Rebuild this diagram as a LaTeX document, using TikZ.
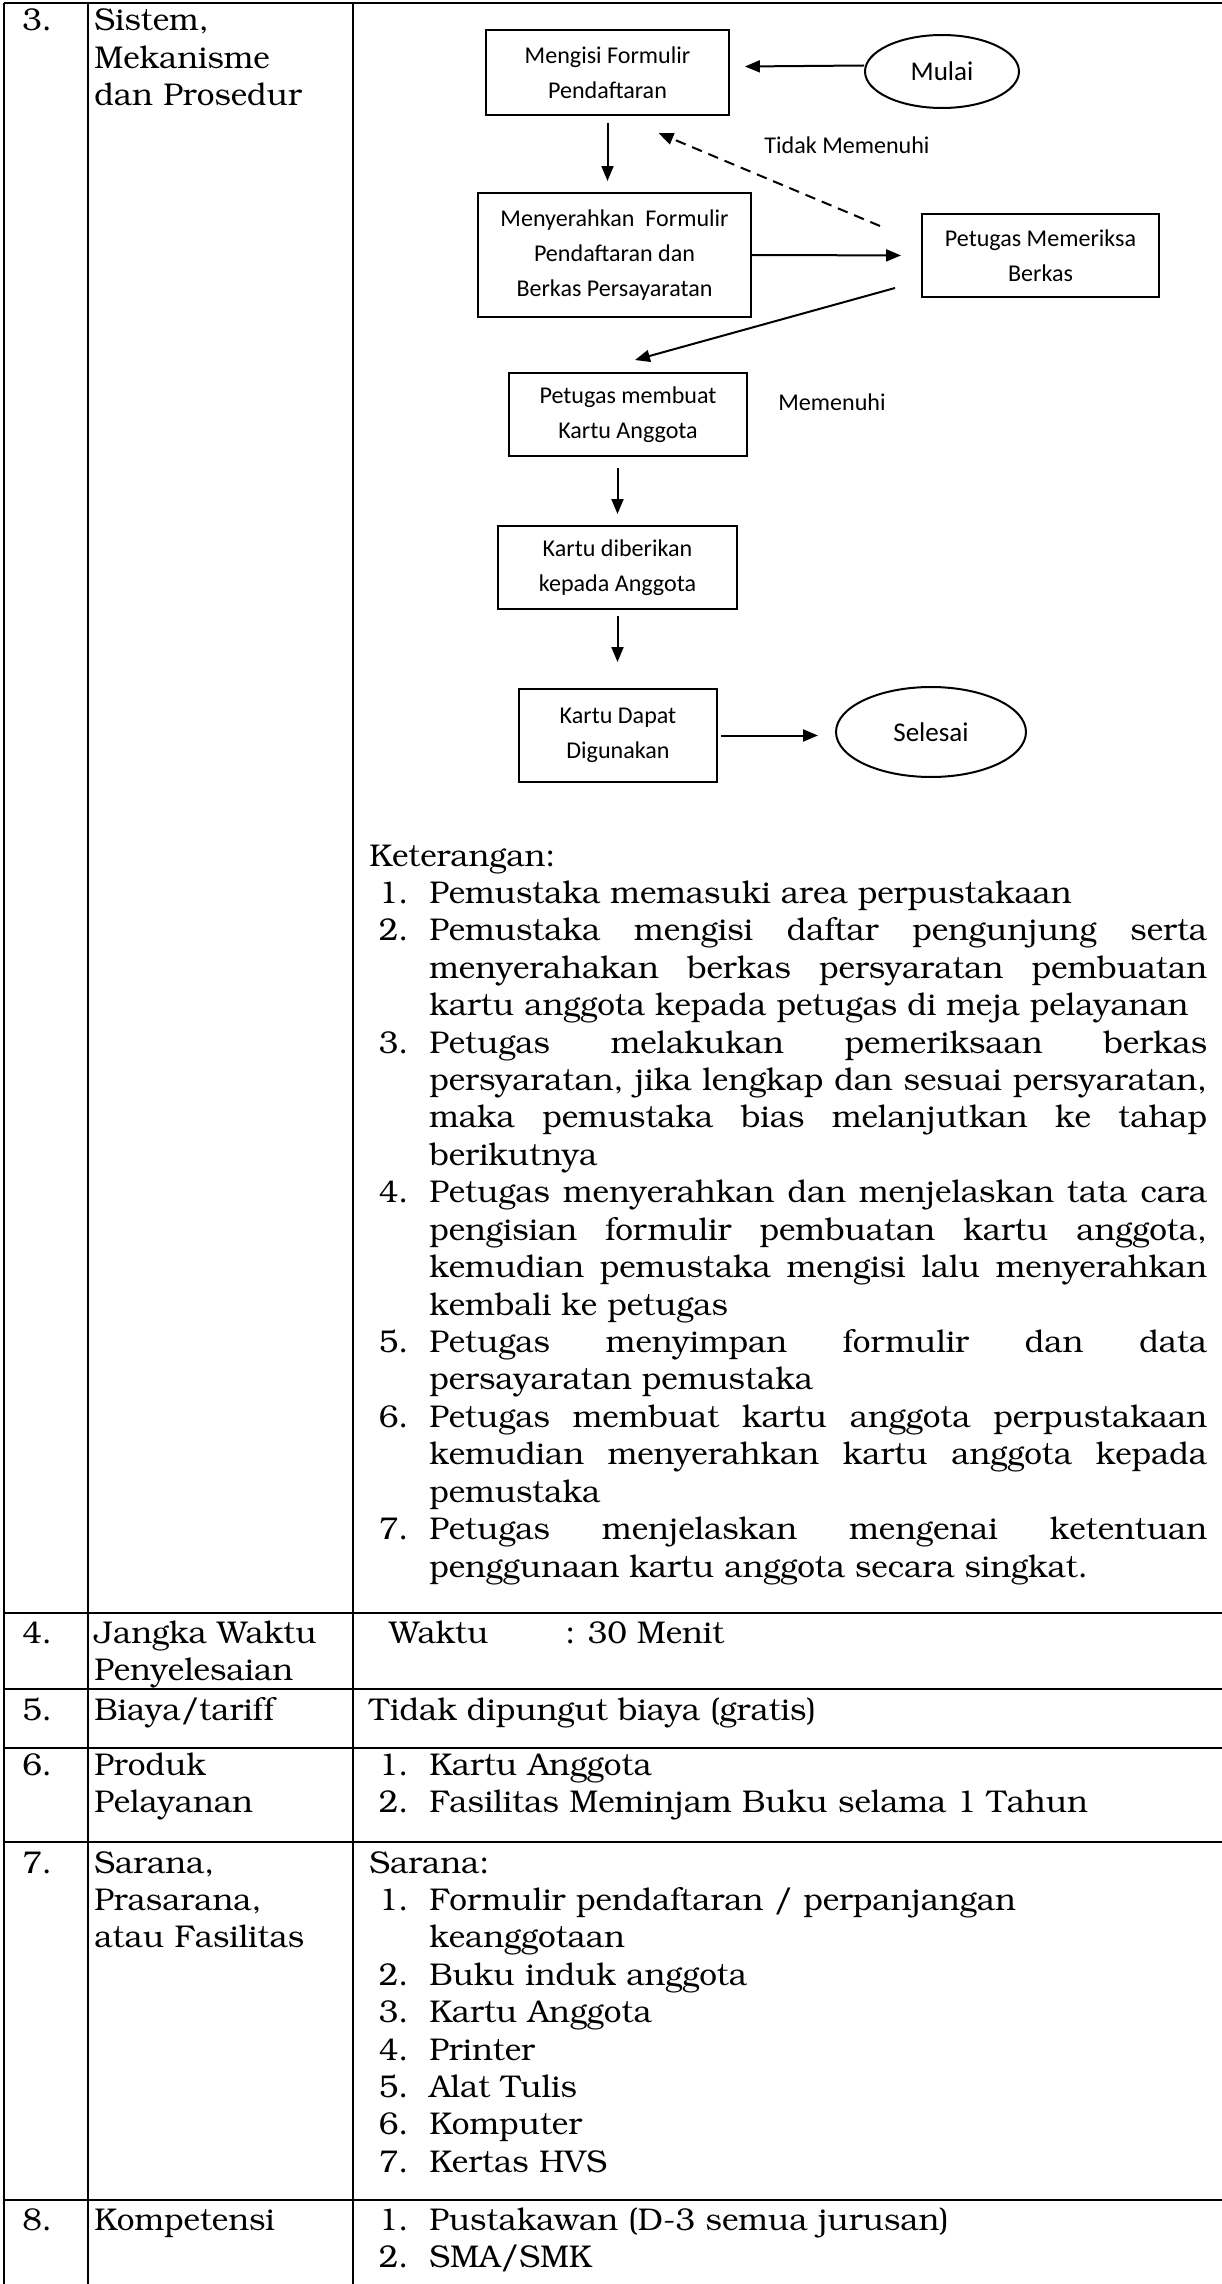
\documentclass[tikz,border=0pt]{standalone}
\usepackage[T1]{fontenc}
\usepackage{fontspec}
\newfontfamily\calibri{Carlito}
\usetikzlibrary{arrows.meta}
\usetikzlibrary{calc,positioning,shapes.geometric}

\newlength{\pxu}
\setlength{\pxu}{0.56906pt}

\newcommand{\bookfont}{\fontencoding{T1}\fontfamily{pbk}\fontseries{m}\fontshape{n}\fontsize{17.9}{21.3}\selectfont}
\newcommand{\alurfont}{\calibri\fontsize{13.7}{19.9}\selectfont}
\newcommand{\butir}[2]{\hangindent=60\pxu\hangafter=1\noindent\makebox[39\pxu][r]{#1}\hspace*{21\pxu}#2\par}

\begin{document}
\begin{tikzpicture}[x=0.02cm, y=-0.02cm, >={Triangle[length=8.5pt,width=6.8pt]},
    garis/.style={line width=2\pxu},
    teks/.style={font=\bookfont, inner sep=0pt, anchor=base west},
    kolom/.style={teks, text width=255\pxu, align=left},
    daftar/.style={teks, text width=838\pxu, align=left},
    kotak/.style={draw, line width=2\pxu, font=\alurfont, align=center, inner sep=0pt},
    bulat/.style={kotak, ellipse, font=\calibri\fontsize{15.4}{18}\selectfont},
    panah/.style={->, line width=2\pxu},
    ket/.style={font=\alurfont, inner sep=0pt}]

    \useasboundingbox (0,0) rectangle (1222,2284);

    % garis tabel
    \draw[garis] (4,3) -- (1222,3);
    \draw[garis] (4,3) -- (4,2284);
    \draw[garis] (88,3) -- (88,2284);
    \draw[garis] (352.5,3) -- (352.5,2284);
    \foreach \y in {1613,1689,1748,1842,2200}
        \draw[garis] (4,\y) -- (1222,\y);

    % baris 3
    \node[teks] (no3) at (22,31) {3.};
    \node[kolom] (judul3) at (94,31) {Sistem,\\Mekanisme\\dan Prosedur};

    \node[kotak, minimum width=243\pxu, minimum height=85\pxu] (isi) at (607.5,72.5) {Mengisi Formulir\\Pendaftaran};
    \node[bulat, minimum width=154\pxu, minimum height=73\pxu] (mulai) at (942,71.5) {Mulai};
    \node[kotak, minimum width=273\pxu, minimum height=124\pxu] (serah) at (614.5,255) {Menyerahkan~~Formulir\\Pendaftaran dan\\Berkas Persayaratan};
    \node[kotak, minimum width=237\pxu, minimum height=83\pxu] (periksa) at (1040.5,255.5) {Petugas Memeriksa\\Berkas};
    \node[kotak, minimum width=238\pxu, minimum height=83\pxu] (buat) at (628,414.5) {Petugas membuat\\Kartu Anggota};
    \node[kotak, minimum width=239\pxu, minimum height=83\pxu] (beri) at (617.5,567.5) {Kartu diberikan\\kepada Anggota};
    \node[kotak, minimum width=198\pxu, minimum height=93\pxu] (guna) at (618,735.5) {Kartu Dapat\\Digunakan};
    \node[bulat, minimum width=190\pxu, minimum height=90\pxu] (selesai) at (931,732) {Selesai};

    \node[ket] (tidak) at (847,145) {Tidak Memenuhi};
    \node[ket] (penuhi) at (832,402) {Memenuhi};

    \draw[panah] ($(mulai.west)+(0,-6)$) -- ($(isi.east)+(15,-6)$);
    \draw[panah, shorten <=7\pxu, shorten >=11\pxu] (isi.south) -- (isi.south |- serah.north);
    \draw[panah, shorten >=20\pxu] (serah.east) -- (periksa.west);
    \draw[panah, dash pattern=on 6pt off 4pt] ($(periksa.north west)+(-41,13)$) -- ($(isi.south)+(51,17)$);
    \draw[panah] ($(periksa.south west)+(-26,-10)$) -- ($(buat.north)+(7,-12)$);
    \draw[panah, shorten <=11\pxu, shorten >=11\pxu] (beri.north |- buat.south) -- (beri.north);
    \draw[panah, shorten <=6\pxu, shorten >=26\pxu] (beri.south) -- (beri.south |- guna.north);
    \draw[panah, shorten <=3\pxu, shorten >=17\pxu] (guna.east) -- (guna.east -| selesai.west);

    \node[daftar, align=justify] (keterangan) at (369,866) {Keterangan:\par
        \butir{1.}{Pemustaka memasuki area perpustakaan}
        \butir{2.}{Pemustaka mengisi daftar pengunjung serta\linebreak menyerahakan berkas persyaratan pembuatan\linebreak kartu anggota kepada petugas di meja pelayanan}
        \butir{3.}{Petugas melakukan pemeriksaan berkas\linebreak persyaratan, jika lengkap dan sesuai persyaratan,\linebreak maka pemustaka bias melanjutkan ke tahap\linebreak berikutnya}
        \butir{4.}{Petugas menyerahkan dan menjelaskan tata cara\linebreak pengisian formulir pembuatan kartu anggota,\linebreak kemudian pemustaka mengisi lalu menyerahkan\linebreak kembali ke petugas}
        \butir{5.}{Petugas menyimpan formulir dan data\linebreak persayaratan pemustaka}
        \butir{6.}{Petugas membuat kartu anggota perpustakaan\linebreak kemudian menyerahkan kartu anggota kepada\linebreak pemustaka}
        \butir{7.}{Petugas menjelaskan mengenai ketentuan\linebreak penggunaan kartu anggota secara singkat.}};

    % baris 4 - 8
    \node[teks] (no4) at (22,1643) {4.};
    \node[kolom] (judul4) at (94,1643) {Jangka Waktu\\Penyelesaian};
    \node[teks] (waktu) at (389,1643) {Waktu};
    \node[teks] (menit) at (565,1643) {: 30 Menit};

    \node[teks] (no5) at (22,1720) {5.};
    \node[kolom] (judul5) at (94,1720) {Biaya/tariff};
    \node[teks] (biaya) at (369,1720) {Tidak dipungut biaya (gratis)};

    \node[teks] (no6) at (22,1775) {6.};
    \node[kolom] (judul6) at (94,1775) {Produk\\Pelayanan};
    \node[daftar] (produk) at (369,1775) {\butir{1.}{Kartu Anggota}
        \butir{2.}{Fasilitas Meminjam Buku selama 1 Tahun}};

    \node[teks] (no7) at (22,1873) {7.};
    \node[kolom] (judul7) at (94,1873) {Sarana,\\Prasarana,\\atau Fasilitas};
    \node[daftar] (sarana) at (369,1873) {Sarana:\par
        \butir{1.}{Formulir pendaftaran / perpanjangan\newline keanggotaan}
        \butir{2.}{Buku induk anggota}
        \butir{3.}{Kartu Anggota}
        \butir{4.}{Printer}
        \butir{5.}{Alat Tulis}
        \butir{6.}{Komputer}
        \butir{7.}{Kertas HVS}};

    \node[teks] (no8) at (22,2230) {8.};
    \node[kolom] (judul8) at (94,2230) {Kompetensi};
    \node[daftar] (kompetensi) at (369,2230) {\butir{1.}{Pustakawan (D-3 semua jurusan)}
        \butir{2.}{SMA/SMK}};

\end{tikzpicture}
\end{document}
